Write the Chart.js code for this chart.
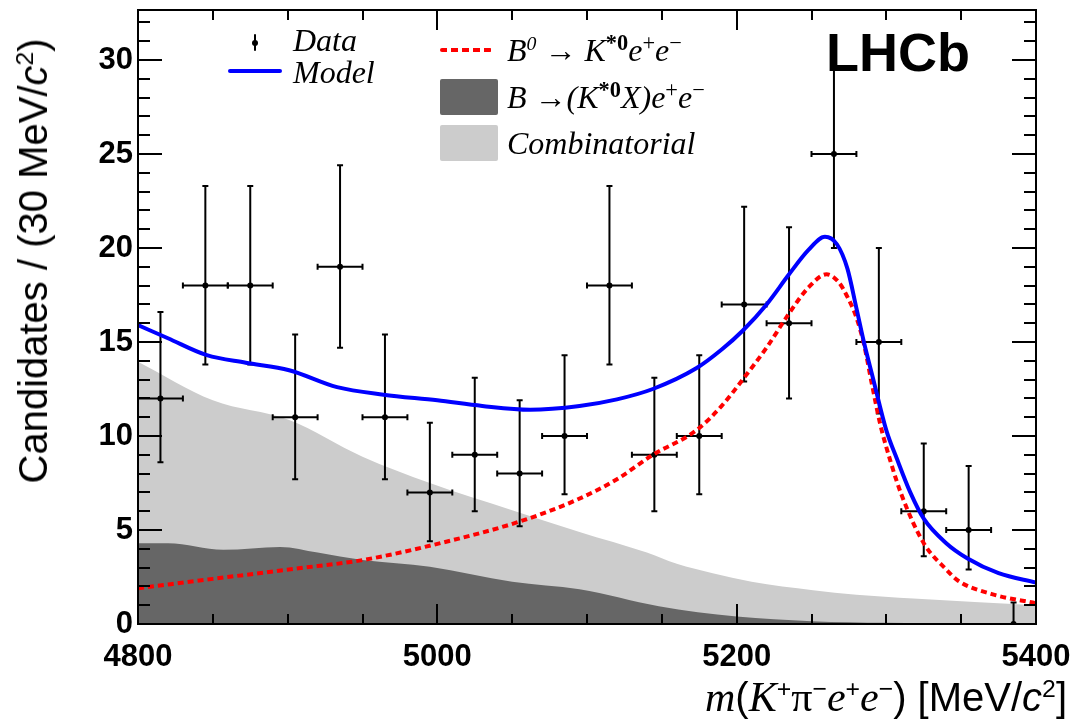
<!DOCTYPE html>
<html>
<head>
<meta charset="utf-8">
<script src="https://cdn.jsdelivr.net/npm/chart.js@4"></script>
<style>
  html, body { margin: 0; padding: 0; background: #fff; }
  #wrap { position: relative; width: 1071px; height: 721px; overflow: hidden; }
  #chart { position: absolute; left: 0; top: 0; }
  .lbl { position: absolute; white-space: nowrap; line-height: 1; transform: translateY(-50%); color: #000; }
  .serif { font-family: "Liberation Serif", "DejaVu Serif", serif; font-style: italic; font-size: 32px; }
  .sans { font-family: "Liberation Sans", Arial, sans-serif; font-size: 40px; }
  .sup { font-size: 0.62em; position: relative; top: -0.55em; }
  .sup2 { font-size: 0.7em; position: relative; top: -0.5em; }
  .up { font-style: normal; }
  #ytitle { position: absolute; left: 33px; top: 261px; white-space: nowrap; line-height: 1;
            transform: translate(-50%, -50%) rotate(-90deg); }
  #lhcb { font-family: "Liberation Sans", Arial, sans-serif; font-weight: bold; font-size: 54px; }
  .box { position: absolute; border-radius: 2px; }
  .xs { font-size: 42px; }
</style>
</head>
<body>
<div id="wrap">
  <canvas id="chart" width="1071" height="721"></canvas>

  <!-- legend -->
  <div class="box" style="left:254px; top:34px; width:2px; height:17px; background:#000;"></div>
  <div class="box" style="left:252px; top:40px; width:6px; height:6px; border-radius:3px; background:#000;"></div>
  <div class="lbl serif" style="left:293px; top:40px;">Data</div>
  <div class="box" style="left:228px; top:69px; width:54px; height:4px; background:#0000ff;"></div>
  <div class="lbl serif" style="left:293px; top:72px;">Model</div>

  <div class="box" style="left:440px; top:48px; width:52px; height:4px;
       background: repeating-linear-gradient(90deg, #ff0000 0 7px, transparent 7px 11px);"></div>
  <div class="lbl serif" style="left:507px; top:50px;">B<span class="sup">0</span> → K<span class="sup2 up"><b>*0</b></span>e<span class="sup2 up">+</span>e<span class="sup2 up">−</span></div>
  <div class="box" style="left:440px; top:79px; width:58px; height:36px; background:#666666;"></div>
  <div class="lbl serif" style="left:507px; top:97px;">B →(K<span class="sup2 up"><b>*0</b></span>X)e<span class="sup2 up">+</span>e<span class="sup2 up">−</span></div>
  <div class="box" style="left:440px; top:125px; width:58px; height:36px; background:#cccccc;"></div>
  <div class="lbl serif" style="left:507px; top:143px;">Combinatorial</div>

  <div id="lhcb" class="lbl" style="left:826px; top:52px;">LHCb</div>

  <!-- axis titles -->
  <div id="ytitle" class="sans">Candidates / (30 MeV/<i>c</i><span class="sup">2</span>)</div>
  <div class="lbl sans" style="right:4px; top:697px;"><span class="serif xs">m</span>(<span class="serif xs">K</span><span class="sup">+</span><span class="serif up xs">π</span><span class="sup">−</span><span class="serif xs">e</span><span class="sup">+</span><span class="serif xs">e</span><span class="sup">−</span>) [MeV/<i>c</i><span class="sup">2</span>]</div>
</div>

<script>
// === Data ===
const binCenters = [4815, 4845, 4875, 4905, 4935, 4965, 4995, 5025, 5055, 5085,
                    5115, 5145, 5175, 5205, 5235, 5265, 5295, 5325, 5355, 5385];
const counts     = [12, 18, 18, 11, 19, 11, 7, 9, 8, 10,
                    18, 9, 10, 17, 16, 25, 15, 6, 5, 0];
const errLowEdge  = [8.6, 13.8, 13.8, 7.7, 14.7, 7.7, 4.4, 6.0, 5.2, 6.9,
                     13.8, 6.0, 6.9, 12.9, 12.0, 20.0, 11.2, 3.6, 2.9, 0];
const errHighEdge = [16.6, 23.3, 23.3, 15.4, 24.4, 15.4, 10.7, 13.1, 11.9, 14.3,
                     23.3, 13.1, 14.3, 22.2, 21.1, 31.1, 20.0, 9.6, 8.4, 1.15];
const binHalfWidth = 15;

// full fit model (blue)
const modelX = [4800, 4820, 4846, 4872, 4901, 4933, 4964, 5000, 5030, 5062,
                5095, 5120, 5144, 5173, 5190, 5204, 5220, 5235, 5248, 5259,
                5267, 5274, 5280, 5285, 5291, 5300, 5307, 5316, 5325, 5340,
                5354, 5375, 5400];
const modelY = [15.9, 15.2, 14.3, 13.9, 13.5, 12.6, 12.2, 11.9, 11.6, 11.4,
                11.6, 11.95, 12.5, 13.6, 14.6, 15.6, 17.0, 18.6, 19.9, 20.6,
                20.2, 18.9, 16.8, 15.0, 13.1, 10.3, 8.8, 7.0, 5.6, 4.3,
                3.5, 2.7, 2.2];

// B0 -> K*0 e+ e- signal (red dotted)
const signalX = [4800, 4850, 4906, 4950, 5002, 5055, 5093, 5120, 5144, 5173,
                 5190, 5204, 5220, 5234, 5248, 5260, 5268, 5274, 5280, 5285,
                 5290, 5296, 5303, 5310, 5325, 5340, 5348, 5370, 5400];
const signalY = [1.9, 2.4, 2.95, 3.4, 4.3, 5.45, 6.6, 7.7, 9.0, 10.3,
                 11.6, 13.0, 14.7, 16.4, 17.9, 18.6, 18.2, 17.4, 16.3, 14.9,
                 12.9, 10.6, 8.6, 6.9, 4.3, 2.9, 2.3, 1.6, 1.1];

// B -> (K*0 X) e+ e- partially reconstructed (dark grey)
const partRecoX = [4800, 4820, 4857, 4895, 4920, 4950, 4995, 5050, 5095, 5148,
                   5200, 5250, 5300, 5350, 5400];
const partRecoY = [4.3, 4.3, 3.95, 4.1, 3.8, 3.4, 3.05, 2.25, 1.85, 0.95,
                   0.4, 0.15, 0.06, 0.02, 0.0];

// combinatorial, stacked on top of the part-reco (light grey top edge)
const bkgTotalX = [4800, 4850, 4901, 4950, 4995, 5050, 5095, 5140, 5160, 5184,
                   5210, 5251, 5280, 5318, 5400];
const bkgTotalY = [13.95, 11.9, 10.85, 8.9, 7.5, 6.05, 4.9, 3.8, 3.2, 2.7,
                   2.25, 1.8, 1.55, 1.35, 1.0];

const xTickLabels = [4800, 5000, 5200, 5400];
const yTickLabels = [0, 5, 10, 15, 20, 25, 30];

function pts(xs, ys) {
  return xs.map((x, i) => ({ x: x, y: ys[i] }));
}

// error bars drawn right after the data markers (over the grey fills, under the curves)
const errorBars = {
  id: 'errorBars',
  afterDatasetDraw(chart, args) {
    if (args.index !== 2) return;
    const ctx = chart.ctx, xs = chart.scales.x, ys = chart.scales.y;
    ctx.save();
    ctx.strokeStyle = '#000';
    ctx.lineWidth = 2;
    binCenters.forEach((c, i) => {
      const px = xs.getPixelForValue(c);
      const py = ys.getPixelForValue(counts[i]);
      const lo = ys.getPixelForValue(errLowEdge[i]);
      const hi = ys.getPixelForValue(errHighEdge[i]);
      ctx.beginPath();
      ctx.moveTo(px, lo); ctx.lineTo(px, hi);
      ctx.moveTo(px - 3, hi); ctx.lineTo(px + 3, hi);
      if (errLowEdge[i] > 0) { ctx.moveTo(px - 3, lo); ctx.lineTo(px + 3, lo); }
      if (counts[i] > 0) {
        const xl = xs.getPixelForValue(c - binHalfWidth);
        const xr = xs.getPixelForValue(c + binHalfWidth);
        ctx.moveTo(xl, py); ctx.lineTo(xr, py);
        ctx.moveTo(xl, py - 3); ctx.lineTo(xl, py + 3);
        ctx.moveTo(xr, py - 3); ctx.lineTo(xr, py + 3);
      }
      ctx.stroke();
    });
    ctx.restore();
  }
};

// ROOT style frame with inward ticks on all four sides
const rootFrame = {
  id: 'rootFrame',
  afterDraw(chart) {
    const ctx = chart.ctx, a = chart.chartArea, xs = chart.scales.x, ys = chart.scales.y;
    ctx.save();
    ctx.strokeStyle = '#000';
    ctx.lineWidth = 2;
    ctx.beginPath();
    for (let v = 4800; v <= 5400; v += 50) {
      const px = Math.round(xs.getPixelForValue(v));
      const len = v % 200 === 0 ? 20 : 10;
      ctx.moveTo(px, a.bottom); ctx.lineTo(px, a.bottom - len);
      ctx.moveTo(px, a.top); ctx.lineTo(px, a.top + len);
    }
    for (let v = 0; v <= 32; v += 1) {
      const py = Math.round(ys.getPixelForValue(v));
      const len = v % 5 === 0 ? 24 : 12;
      ctx.moveTo(a.left, py); ctx.lineTo(a.left + len, py);
      ctx.moveTo(a.right, py); ctx.lineTo(a.right - len, py);
    }
    ctx.stroke();
    ctx.strokeRect(a.left, a.top, a.right - a.left, a.bottom - a.top);
    ctx.restore();
  }
};

const tickFont = { family: '"Liberation Sans", Arial, sans-serif', size: 31, weight: 'bold' };

const ctx = document.getElementById('chart').getContext('2d');

new Chart(ctx, {
  type: 'line',
  data: {
    datasets: [
      {
        label: 'Model',
        data: pts(modelX, modelY),
        borderColor: '#0000ff',
        borderWidth: 4,
        pointRadius: 0,
        fill: false,
        cubicInterpolationMode: 'monotone'
      },
      {
        label: 'B0 -> K*0 e+ e-',
        data: pts(signalX, signalY),
        borderColor: '#ff0000',
        borderWidth: 4,
        borderDash: [6, 4],
        pointRadius: 0,
        fill: false,
        cubicInterpolationMode: 'monotone'
      },
      {
        label: 'Data',
        data: pts(binCenters, counts),
        showLine: false,
        pointRadius: 3,
        pointBackgroundColor: '#000',
        pointBorderColor: '#000',
        pointBorderWidth: 0
      },
      {
        label: 'B -> (K*0 X) e+ e-',
        data: pts(partRecoX, partRecoY),
        borderWidth: 0,
        borderColor: 'rgba(0,0,0,0)',
        backgroundColor: '#666666',
        pointRadius: 0,
        fill: 'origin',
        cubicInterpolationMode: 'monotone'
      },
      {
        label: 'Combinatorial',
        data: pts(bkgTotalX, bkgTotalY),
        borderWidth: 0,
        borderColor: 'rgba(0,0,0,0)',
        backgroundColor: '#cccccc',
        pointRadius: 0,
        fill: 'origin',
        cubicInterpolationMode: 'monotone'
      }
    ]
  },
  options: {
    responsive: false,
    animation: false,
    layout: { padding: { top: 10, right: 35, left: 0, bottom: 0 } },
    plugins: {
      legend: { display: false },
      tooltip: { enabled: false }
    },
    scales: {
      x: {
        type: 'linear',
        min: 4800,
        max: 5400,
        grid: { display: false, drawTicks: false },
        border: { display: false },
        afterBuildTicks: (s) => { s.ticks = xTickLabels.map(v => ({ value: v })); },
        afterFit: (s) => { s.height = 97; s.paddingLeft = 0; s.paddingRight = 0; },
        ticks: {
          padding: 15,
          maxRotation: 0,
          color: '#000',
          font: tickFont,
          callback: (v) => String(v)
        }
      },
      y: {
        type: 'linear',
        min: 0,
        max: 32.66,
        grid: { display: false, drawTicks: false },
        border: { display: false },
        afterBuildTicks: (s) => { s.ticks = yTickLabels.map(v => ({ value: v })); },
        afterFit: (s) => { s.width = 138; s.paddingTop = 0; s.paddingBottom = 0; },
        ticks: {
          padding: 5,
          color: '#000',
          font: tickFont,
          callback: (v) => String(v)
        }
      }
    }
  },
  plugins: [errorBars, rootFrame]
});
</script>
</body>
</html>
